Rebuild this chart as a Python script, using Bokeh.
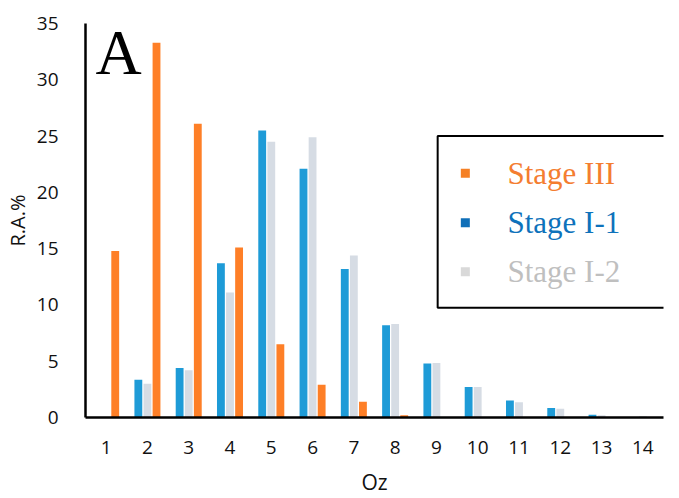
from bokeh.plotting import figure
from bokeh.models import (ColumnDataSource, Range1d, FixedTicker, Label,
                          PolyAnnotation)
from bokeh.transform import dodge
from bokeh.embed import file_html
from bokeh.resources import INLINE

# Relative abundance (%) by oxygen number Oz for the three stages
oz = [1, 2, 3, 4, 5, 6, 7, 8, 9, 10, 11, 12, 13, 14]
stage_i1 = [0.0, 3.35, 4.4, 13.7, 25.5, 22.1, 13.2, 8.2, 4.8, 2.7, 1.5, 0.85, 0.25, 0.0]
stage_i2 = [0.0, 3.0, 4.2, 11.1, 24.5, 24.9, 14.4, 8.3, 4.85, 2.7, 1.35, 0.77, 0.2, 0.1]
stage_iii = [14.8, 33.3, 26.1, 15.1, 6.5, 2.9, 1.4, 0.2, 0.0, 0.0, 0.0, 0.0, 0.0, 0.0]

series_names = ["Stage III", "Stage I-1", "Stage I-2"]
y_ticks = [0, 5, 10, 15, 20, 25, 30, 35]

BLUE = "#1E9BD7"
GRAY = "#D6DCE4"
ORANGE = "#FE7F27"

src = ColumnDataSource(dict(oz=oz, i1=stage_i1, i2=stage_i2, iii=stage_iii))

p = figure(width=679, height=498, output_backend="svg", toolbar_location=None,
           x_range=Range1d(0.5, 14.5), y_range=Range1d(0, 35),
           min_border_left=85, min_border_right=16,
           min_border_top=23, min_border_bottom=80)
p.outline_line_color = None
p.grid.visible = False
p.background_fill_color = "white"
p.border_fill_color = "white"

bw = 0.19
p.vbar(x=dodge("oz", -0.22), top="i1", width=bw, source=src,
       fill_color=BLUE, line_color=None)
p.vbar(x=dodge("oz", 0.0), top="i2", width=bw, source=src,
       fill_color=GRAY, line_color=None)
p.vbar(x=dodge("oz", 0.22), top="iii", width=bw, source=src,
       fill_color=ORANGE, line_color=None)

tick_font = "Open Sans"
for ax in (p.xaxis[0], p.yaxis[0]):
    ax.axis_line_color = "black"
    ax.axis_line_width = 2.5
    ax.major_tick_line_color = None
    ax.minor_tick_line_color = None
    ax.major_label_text_font = tick_font
    ax.major_label_text_font_size = "19px"
    ax.major_label_text_color = "#111111"
    ax.axis_label_text_font = tick_font
    ax.axis_label_text_font_style = "normal"
    ax.axis_label_text_color = "#111111"

p.xaxis.axis_label_text_font_size = "21px"
p.yaxis.axis_label_text_font_size = "20px"
p.xaxis.ticker = FixedTicker(ticks=oz)
p.yaxis.ticker = FixedTicker(ticks=y_ticks)
p.xaxis.axis_label = "Oz"
p.yaxis.axis_label = "R.A.%"
p.xaxis.major_label_standoff = 17
p.yaxis.major_label_standoff = 21
p.xaxis.axis_label_standoff = 11
p.yaxis.axis_label_standoff = 3

# Panel letter
p.add_layout(Label(x=0.74, y=32.4, text="A", text_font="Liberation Serif",
                   text_font_size="64px", text_baseline="alphabetic",
                   text_color="black"))

# Legend frame (runs off the right edge) and entries
p.add_layout(PolyAnnotation(xs=[9.03, 16.5, 16.5, 9.03], ys=[25.0, 25.0, 9.75, 9.75],
                            fill_color=None, fill_alpha=0, line_color="black",
                            line_alpha=1.0, line_width=2))

legend_marker_colors = ["#F58025", "#0F6FB8", "#D9D9D9"]
legend_text_colors = ["#F47D30", "#0E72BB", "#BFBFBF"]
legend_rows = [21.7, 17.3, 12.95]
leg = ColumnDataSource(dict(x=[9.7] * 3, y=legend_rows, c=legend_marker_colors))
p.scatter(x="x", y="y", marker="square", size=9, fill_color="c",
          line_color=None, source=leg)
for name, col, yy in zip(series_names, legend_text_colors, legend_rows):
    p.add_layout(Label(x=10.72, y=yy, text=name, text_font="Liberation Serif",
                       text_font_size="31px", text_baseline="middle",
                       text_color=col))

open("out.html", "w").write(file_html(p, INLINE))
